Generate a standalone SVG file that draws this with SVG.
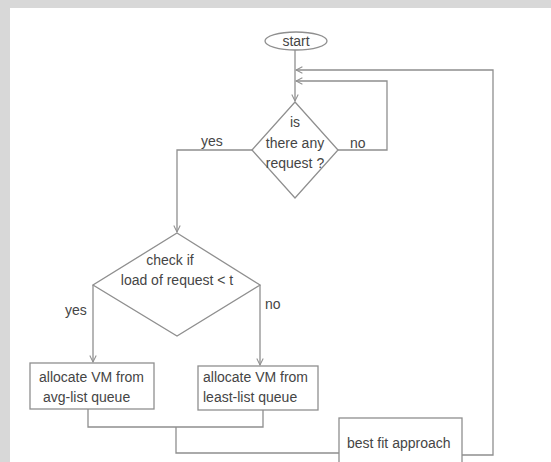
<svg xmlns="http://www.w3.org/2000/svg" width="551" height="462" viewBox="0 0 551 462">
  <style>
    .ln { fill: none; stroke: #8f8f8f; stroke-width: 1.3; }
    .shape { fill: #ffffff; stroke: #8f8f8f; stroke-width: 1.3; }
    .t { font-family: "Liberation Sans", Arial, sans-serif; font-size: 14px; fill: #454545; }
    .c { text-anchor: middle; }
  </style>
  <defs>
    <marker id="arr" viewBox="0 0 10 10" refX="9" refY="5" markerWidth="8" markerHeight="8" orient="auto" markerUnits="userSpaceOnUse">
      <path d="M1,1 L9,5 L1,9" fill="none" stroke="#8f8f8f" stroke-width="1.3"/>
    </marker>
  </defs>

  <!-- page frame -->
  <rect x="0" y="0" width="551" height="462" fill="#d8d8d8"/>
  <rect x="10" y="8" width="541" height="454" fill="#ffffff"/>

  <!-- connectors -->
  <g id="connectors">
    <!-- start to first decision -->
    <path class="ln" d="M295,50 V101" marker-end="url(#arr)"/>
    <!-- outer loop back from best fit -->
    <path class="ln" d="M462,455 H493 V70 H296" marker-end="url(#arr)"/>
    <!-- no loop from first decision -->
    <path class="ln" d="M338,150 H387 V81 H296" marker-end="url(#arr)"/>
    <!-- yes to second decision -->
    <path class="ln" d="M252,150 H177 V232" marker-end="url(#arr)"/>
    <!-- second decision branches -->
    <path class="ln" d="M93,285 V362" marker-end="url(#arr)"/>
    <path class="ln" d="M260,285 V365" marker-end="url(#arr)"/>
    <!-- join of both allocations -->
    <path class="ln" d="M88,409 V427 H263 V410"/>
    <path class="ln" d="M176,427 V453 H339"/>
  </g>

  <g id="start">
    <ellipse class="shape" cx="296" cy="41" rx="31" ry="9"/>
    <text class="t c" x="296" y="46">start</text>
  </g>

  <g id="any-request">
    <polygon class="shape" points="295,102 338,150 295,198 252,150"/>
    <text class="t c" x="295" y="127">is</text>
    <text class="t c" x="295" y="148">there any</text>
    <text class="t c" x="295" y="168">request ?</text>
  </g>
  <text class="t" x="201" y="146">yes</text>
  <text class="t" x="350" y="148">no</text>

  <g id="check-load">
    <polygon class="shape" points="177,233 260,285 177,336 93,285"/>
    <text class="t c" x="170" y="265">check if</text>
    <text class="t c" x="177" y="285">load of request &lt; t</text>
  </g>
  <text class="t" x="65" y="315">yes</text>
  <text class="t" x="265" y="309">no</text>

  <g id="avg-list">
    <rect class="shape" x="30" y="363" width="124" height="46"/>
    <text class="t" x="39" y="382">allocate VM from</text>
    <text class="t" x="43" y="402">avg-list queue</text>
  </g>

  <g id="least-list">
    <rect class="shape" x="198" y="366" width="120" height="44"/>
    <text class="t" x="203" y="382">allocate VM from</text>
    <text class="t" x="203" y="402">least-list queue</text>
  </g>

  <g id="best-fit">
    <rect class="shape" x="339" y="418" width="123" height="50"/>
    <text class="t" x="347" y="448">best fit approach</text>
  </g>
</svg>
